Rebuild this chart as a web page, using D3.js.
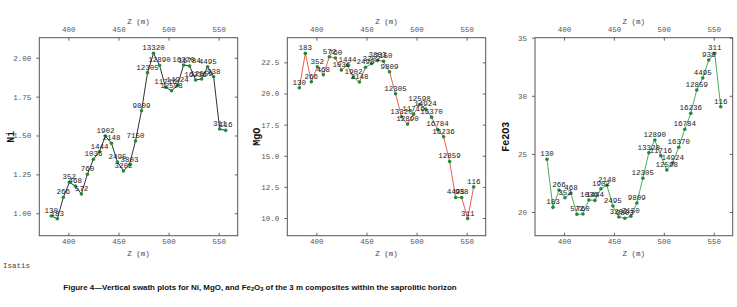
<!DOCTYPE html>
<html>
<head>
<meta charset="utf-8">
<script src="https://cdn.jsdelivr.net/npm/d3@7"></script>
<style>
  body { margin: 0; background: #fff; }
  svg text { font-family: "Liberation Mono", "DejaVu Sans Mono", monospace; }
</style>
</head>
<body>
<svg id="chart" width="737" height="307"></svg>
<script>
// depth of each composite (m)
const zVals = [383, 389, 395, 401, 407, 413, 419, 425, 431, 437, 443, 449, 455, 461, 467,
               473, 479, 485, 491, 497, 503, 509, 515, 521, 527, 533, 539, 545, 551, 557];

// sample count labels written next to every point
const sampleLabels = ["130", "183", "266", "352", "468", "572", "760", "1036", "1444", "1902",
                      "2148", "2495", "3202", "3803", "7150", "9809", "12305", "13320", "12890", "11716",
                      "12598", "14924", "16370", "16784", "16236", "12859", "4495", "938", "311", "116"];

const niVals = [0.983, 0.965, 1.103, 1.199, 1.175, 1.124, 1.251, 1.347, 1.396, 1.497,
                1.450, 1.330, 1.272, 1.312, 1.465, 1.659, 1.904, 2.028, 1.951, 1.810,
                1.788, 1.823, 1.953, 1.947, 1.857, 1.863, 1.942, 1.878, 1.542, 1.533];

const mgoVals = [20.46, 23.22, 20.94, 22.15, 21.50, 22.95, 22.85, 21.88, 22.26, 21.29,
                 20.92, 22.10, 22.39, 22.66, 22.58, 21.74, 19.98, 18.13, 17.54, 18.34,
                 19.12, 18.75, 18.10, 17.11, 16.52, 14.54, 11.65, 11.65, 9.96, 12.50];

const fe2o3Vals = [24.54, 20.40, 21.89, 21.23, 21.61, 19.80, 19.83, 21.03, 21.00, 22.00,
                   22.30, 20.52, 19.57, 19.46, 19.63, 20.77, 22.90, 25.10, 26.20, 24.85,
                   23.61, 24.24, 25.57, 27.12, 28.49, 30.50, 31.53, 33.08, 33.66, 29.06];

const zTicks = [400, 450, 500, 550];
const niTicks = [1.00, 1.25, 1.50, 1.75, 2.00];
const mgoTicks = [10.0, 12.5, 15.0, 17.5, 20.0, 22.5];
const fe2o3Ticks = [20, 25, 30, 35];

const svg = d3.select('#chart');

const panels = [
  { title: "Ni", vals: niVals, ticks: niTicks, fmt: d3.format(".2f"), yDom: [0.856, 2.1285],
    left: 39.3, right: 237.7, lineColor: "#1a1a1a", titleX: 10 },
  { title: "MgO", vals: mgoVals, ticks: mgoTicks, fmt: d3.format(".1f"), yDom: [8.58, 24.48],
    left: 287.3, right: 485.7, lineColor: "#ee4a3c", titleX: 256 },
  { title: "Fe2O3", vals: fe2o3Vals, ticks: fe2o3Ticks, fmt: d3.format("d"), yDom: [17.96, 35],
    left: 535, right: 732.7, lineColor: "#3f9f4c", titleX: 505 }
];

const plotTop = 37.7, plotBottom = 235.7;

panels.forEach(p => {
  const g = svg.append('g');

  const x = d3.scaleLinear().domain([371, 569]).range([p.left, p.right]);
  const y = d3.scaleLinear().domain(p.yDom).range([plotBottom, plotTop]);

  // axes
  const axTop = g.append('g').attr('transform', `translate(0,${plotTop})`)
     .call(d3.axisTop(x).tickValues(zTicks).tickSize(-3).tickPadding(6));
  const axBot = g.append('g').attr('transform', `translate(0,${plotBottom})`)
     .call(d3.axisBottom(x).tickValues(zTicks).tickSize(-3).tickPadding(3));
  const axLeft = g.append('g').attr('transform', `translate(${p.left},0)`)
     .call(d3.axisLeft(y).tickValues(p.ticks).tickFormat(p.fmt).tickSize(3).tickPadding(5));
  const axRight = g.append('g').attr('transform', `translate(${p.right},0)`)
     .call(d3.axisRight(y).tickValues(p.ticks).tickFormat("").tickSize(-3));

  [axTop, axBot, axLeft, axRight].forEach(a => {
    a.select('.domain').remove();
    a.selectAll('line').attr('stroke', '#666');
    a.selectAll('text').attr('fill', '#555').style('font-size', '7.5px')
     .style('font-family', '"Liberation Mono", monospace');
  });

  g.append('rect')
   .attr('x', p.left).attr('y', plotTop)
   .attr('width', p.right - p.left).attr('height', plotBottom - plotTop)
   .attr('fill', 'none').attr('stroke', '#555').attr('stroke-width', 1);

  // axis titles
  const cx = (p.left + p.right) / 2;
  g.append('text').attr('x', cx).attr('y', 23.5).attr('text-anchor', 'middle')
   .attr('fill', '#444').style('font-size', '7.5px').text("Z (m)");
  g.append('text').attr('x', cx).attr('y', 255.5).attr('text-anchor', 'middle')
   .attr('fill', '#444').style('font-size', '7.5px').text("Z (m)");

  g.append('text')
   .attr('transform', `translate(${p.titleX + 3.5},${(plotTop + plotBottom) / 2}) rotate(-90)`)
   .attr('text-anchor', 'middle')
   .attr('fill', '#111').style('font-size', '10px').style('font-weight', 'bold')
   .text(p.title);

  const pts = zVals.map((z, i) => ({ z: z, v: p.vals[i], label: sampleLabels[i] }));

  const line = d3.line().x(d => x(d.z)).y(d => y(d.v));
  g.append('path').datum(pts)
   .attr('d', line).attr('fill', 'none')
   .attr('stroke', p.lineColor).attr('stroke-width', 0.9);

  g.selectAll('circle').data(pts).enter()
   .append('circle')
   .attr('cx', d => x(d.z)).attr('cy', d => y(d.v))
   .attr('r', 1.8).attr('fill', '#1f8a3a');

  g.selectAll('text.lab').data(pts).enter()
   .append('text').attr('class', 'lab')
   .attr('x', d => x(d.z)).attr('y', d => y(d.v) - 3)
   .attr('text-anchor', 'middle')
   .attr('fill', '#222').style('font-size', '7.5px')
   .text(d => d.label);
});

svg.append('text').attr('x', 3).attr('y', 267.5)
   .attr('fill', '#444').style('font-size', '7.5px').text("Isatis");

// caption with subscripts, sized to span the same width as the original
const cap = svg.append('text')
   .attr('x', 260).attr('y', 290).attr('text-anchor', 'middle')
   .attr('fill', '#111')
   .style('font-family', '"Liberation Sans Narrow", "Liberation Sans", Arial, sans-serif')
   .style('font-weight', 'bold').style('font-size', '10px');
cap.append('tspan').text("Figure 4\u2014Vertical swath plots for Ni, MgO, and Fe");
cap.append('tspan').attr('dy', 1.2).style('font-size', '0.72em').text("2");
cap.append('tspan').attr('dy', -1.2).text("O");
cap.append('tspan').attr('dy', 1.2).style('font-size', '0.72em').text("3");
cap.append('tspan').attr('dy', -1.2).text(" of the 3 m composites within the saprolitic horizon");
const capLen = cap.node().getComputedTextLength();
cap.style('font-size', (10 * 394 / capLen) + 'px');
</script>
</body>
</html>
